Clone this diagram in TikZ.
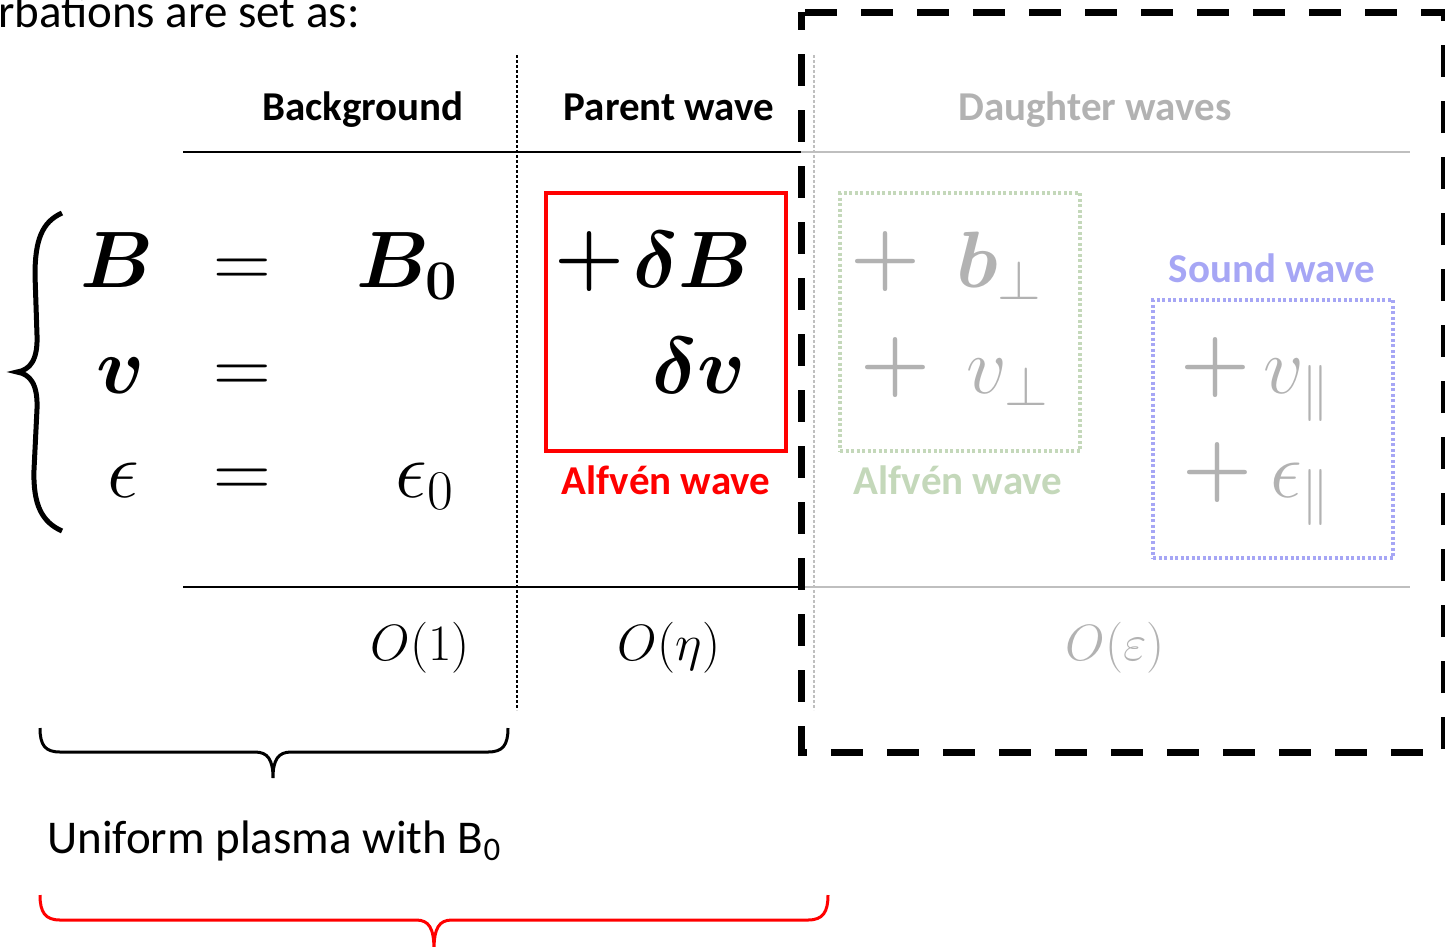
\RequirePackage{fix-cm}
\documentclass[tikz,border=0pt]{standalone}
\usepackage{amsmath}
\usepackage{bm}
\usepackage{fontspec}
\setmainfont{Carlito}
\usepackage{xcolor}
\definecolor{daughtergray}{RGB}{178,178,178}
\definecolor{alfgreen}{RGB}{196,216,186}
\definecolor{soundblue}{RGB}{166,166,245}
\definecolor{rulegray}{RGB}{191,191,191}
\usepackage{tikz}
\usetikzlibrary{positioning}

\begin{document}
\begin{tikzpicture}[x=1pt, y=-1pt,
  head/.style={font=\fontsize{41}{50}\selectfont\bfseries, inner sep=0pt, anchor=base},
  body/.style={font=\fontsize{47}{56}\selectfont, inner sep=0pt, anchor=base west},
  eq/.style={font=\fontsize{80}{96}\selectfont, inner sep=0pt, anchor=base},
  order/.style={font=\fontsize{51}{60}\selectfont, inner sep=0pt},
  wavebox/.style={minimum width=240pt, minimum height=258pt, inner sep=0pt},
  alfred/.style={wavebox, draw=red, line width=4pt},
  alfdot/.style={wavebox, draw=alfgreen, line width=4pt, dash pattern=on 3pt off 2.5pt},
  sounddot/.style={wavebox, draw=soundblue, line width=4pt, dash pattern=on 3pt off 2.5pt},
  sep/.style={line width=2pt},
  colsep/.style={line width=1.3pt, dash pattern=on 3pt off 2pt},
]
\useasboundingbox (0,0) rectangle (1445,946);

% Intro line (cut at the left)
\node[body] (intro) at (-2,27) {rbations are set as:};

% Headers
\node[head] (hbg) at (363,120) {Background};
\node[head] (hpw) at (669,120) {Parent wave};
\node[head, text=daughtergray] (hdw) at (1095,120) {Daughter waves};

% Rules and column separators
\draw[sep] (183,152) -- (801,152);
\draw[sep, rulegray] (801,152) -- (1410,152);
\draw[sep] (183,587) -- (801,587);
\draw[sep, rulegray] (801,587) -- (1410,587);
\draw[colsep] (517,55) -- (517,710);
\draw[colsep, rulegray] (814,55) -- (814,710);

% Daughter frame
\draw[line width=7pt, dash pattern=on 32pt off 24pt, dash phase=14pt] (801,12) rectangle (1444,752);

% Left brace of the system
\draw[line width=5pt] (62,213) .. controls (42,222) and (35,240) .. (35,275) -- (37,335)
  .. controls (38,360) and (30,370) .. (17,372)
  .. controls (30,374) and (38,384) .. (37,409) -- (34,470)
  .. controls (33,505) and (42,522) .. (62,531);

% Background column
\node[eq] (lb) at (117,287) {$\bm{B}$};
\node[eq] (lv) at (121,393) {$\bm{v}$};
\node[eq] (le) at (123,497) {$\epsilon$};
\node[eq] (q1) at (242,287) {$=$};
\node[eq] (q2) at (242,393) {$=$};
\node[eq] (q3) at (242,497) {$=$};
\node[eq, anchor=base east] (b0) at (458,287) {$\bm{B}_{\bm{0}}$};
\node[eq, anchor=base east] (e0) at (454,497) {$\epsilon_{\scriptstyle 0}$};

% Parent wave
\node[alfred] (pbox) at (666,322) {};
\node[eq, anchor=center] (pplus) at (589,261) {$\bm{+}$};
\node[eq, anchor=base east] (pdb) at (752,287) {$\bm{\delta B}$};
\node[eq, anchor=base east] (pdv) at (746,393) {$\bm{\delta v}$};
\node[head, text=red, anchor=north] (plab) at (666,466) {Alfvén wave};

% Daughter waves: Alfven
\node[alfdot] (abox) at (960,322) {};
\node[eq, anchor=center, text=daughtergray] (aplus1) at (885,261) {$\bm{+}$};
\node[eq, anchor=base west, text=daughtergray] (ab) at (956,287) {$\bm{b}_\perp$};
\node[eq, anchor=center, text=daughtergray] (aplus2) at (895,367) {$\bm{+}$};
\node[eq, anchor=base west, text=daughtergray] (av) at (966,393) {$v_\perp$};
\node[head, text=alfgreen, anchor=north] (alab) at (958,466) {Alfvén wave};

% Daughter waves: sound
\node[head, text=soundblue] (slab) at (1272,282) {Sound wave};
\node[sounddot] (sbox) at (1273,429) {};
\node[eq, anchor=center, text=daughtergray] (splus1) at (1215,367) {$\bm{+}$};
\node[eq, anchor=base west, text=daughtergray] (sv) at (1263,393) {$v_\parallel$};
\node[eq, anchor=center, text=daughtergray] (splus2) at (1217,472) {$\bm{+}$};
\node[eq, anchor=base west, text=daughtergray] (se) at (1270,497) {$\epsilon_\parallel$};

% Orders
\node[order] (o1) at (420,648) {$O(1)$};
\node[order] (o2) at (669,648) {$O(\eta)$};
\node[order, text=daughtergray] (o3) at (1115,648) {$O(\varepsilon)$};

% Bottom braces
\draw[line width=3pt] (40,728) .. controls (40,745) and (45,752) .. (60,752) -- (255,752)
  .. controls (268,752) and (273,760) .. (273,778)
  .. controls (273,760) and (278,752) .. (291,752) -- (488,752)
  .. controls (503,752) and (508,745) .. (508,728);
\node[body] (uni) at (47,853) {Uniform plasma with B\textsubscript{0}};
\draw[line width=3pt, red] (40,895) .. controls (40,912) and (45,920) .. (60,920) -- (416,920)
  .. controls (429,920) and (434,928) .. (434,950)
  .. controls (434,928) and (439,920) .. (452,920) -- (808,920)
  .. controls (823,920) and (828,912) .. (828,895);
\end{tikzpicture}
\end{document}
